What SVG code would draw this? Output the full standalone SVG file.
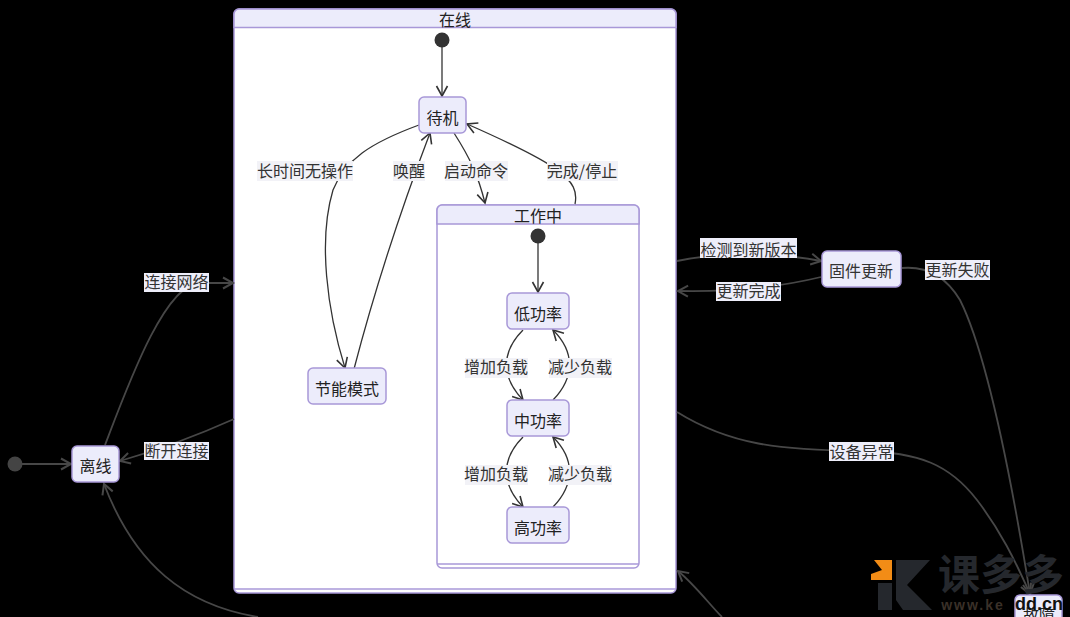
<svg xmlns="http://www.w3.org/2000/svg" width="1070" height="617" viewBox="0 0 1070 617">
<style>
text{font-family:"Noto Sans CJK SC","Liberation Sans",sans-serif;font-size:16px;text-anchor:middle;fill:#333}
.n rect{fill:#ececfb;stroke:#a898d8;stroke-width:1.5}
.c{fill:#fff;stroke:#a898d8;stroke-width:1.5}
.h{fill:#ececfb;stroke:#a898d8;stroke-width:1.5}
.s{stroke:#a898d8;stroke-width:1.5;fill:none}
.e path{fill:none;stroke:#333;stroke-width:1.3;marker-end:url(#a)}
.e path.d{stroke:#474747;stroke-width:1.8;marker-end:url(#b)}
.l{fill:#f2f2f7}
.ld{fill:#eeeefa}
.t{fill:#222}
</style>
<defs>
<marker id="a" markerWidth="14" markerHeight="14" refX="11" refY="7" orient="auto" markerUnits="userSpaceOnUse"><path d="M1 1.500L11 7L1 12.500" fill="none" stroke="#333" stroke-width="1.600"/></marker>
<marker id="b" markerWidth="14" markerHeight="14" refX="11" refY="7" orient="auto" markerUnits="userSpaceOnUse"><path d="M1 1.500L11 7L1 12.500" fill="none" stroke="#474747" stroke-width="2"/></marker>
</defs>
<rect width="1070" height="617" fill="#000"/>
<g id="state-online">
<rect class="c" x="234" y="9" width="442" height="584" rx="5"/>
<path class="h" d="M234 27.500V14a5 5 0 0 1 5-5H671a5 5 0 0 1 5 5V27.500Z"/>
<path class="s" d="M234 589H676"/>
<text class="t" x="455" y="26">在线</text>
</g>
<g id="state-working">
<rect class="c" x="437" y="205" width="202" height="363" rx="5"/>
<path class="h" d="M437 224V210a5 5 0 0 1 5-5H634a5 5 0 0 1 5 5V224Z"/>
<path class="s" d="M437 564H639"/>
<text class="t" x="538" y="222">工作中</text>
</g>
<g id="connectors" class="e">
<path class="d" d="M22 464H71"/>
<path class="d" d="M105 445C128 385 165 283 200 283H233"/>
<path class="d" d="M234 419C205 432 165 448 120 461"/>
<path d="M442 47V96"/>
<path d="M419 125C370 143 345 160 333 190C318 240 327 310 345 368"/>
<path d="M354 369C372 300 395 225 430 133"/>
<path d="M454 133C470 158 478 175 485 203"/>
<path d="M575 204C580 180 560 165 467 124"/>
<path d="M538 243V292"/>
<path d="M523 330C501 352 501 377 523 400"/>
<path d="M553 400C575 377 575 352 553 330"/>
<path d="M523 437C501 459 501 484 523 507"/>
<path d="M553 507C575 484 575 459 553 437"/>
<path class="d" d="M677 261C710 254 770 251 821 261"/>
<path class="d" d="M821 277C780 287 730 292 678 291"/>
<path class="d" d="M902 268C925 266 945 275 960 300C985 350 1010 470 1030 594"/>
<path class="d" d="M677 412C730 445 780 450 860 451C920 452 950 465 977 500C1000 530 1015 560 1030 594"/>
<path class="d" d="M258 617C185 605 135 565 104 484"/>
<path class="d" d="M722 617C710 605 695 585 678 571"/>
</g>
<g id="start-1"><circle cx="15" cy="464" r="7.500" fill="#444"/></g>
<g id="start-2"><circle cx="442" cy="40" r="7.500" fill="#333"/></g>
<g id="start-3"><circle cx="538" cy="236" r="7.500" fill="#333"/></g>
<g id="offline" class="n"><rect x="72" y="446" width="47" height="36" rx="5"/><text class="t" x="95.500" y="472">离线</text></g>
<g id="standby" class="n"><rect x="419" y="97" width="47" height="36" rx="5"/><text class="t" x="442.500" y="124">待机</text></g>
<g id="saving" class="n"><rect x="308" y="368" width="78" height="36" rx="5"/><text class="t" x="347" y="395">节能模式</text></g>
<g id="low" class="n"><rect x="507" y="293" width="62" height="36" rx="5"/><text class="t" x="538" y="320">低功率</text></g>
<g id="mid" class="n"><rect x="507" y="400" width="62" height="36" rx="5"/><text class="t" x="538" y="427">中功率</text></g>
<g id="high" class="n"><rect x="507" y="507" width="62" height="36" rx="5"/><text class="t" x="538" y="534">高功率</text></g>
<g id="firmware" class="n"><rect x="822" y="251" width="79" height="36" rx="5"/><text x="861" y="277">固件更新</text></g>
<g id="fault" class="n"><rect x="1015" y="595" width="47" height="36" rx="5"/><text class="t" x="1039" y="621">故障</text></g>
<g id="labels">
<rect class="l" x="257" y="161" width="96" height="20"/><text x="305" y="177">长时间无操作</text>
<rect class="l" x="393" y="161" width="32" height="20"/><text x="409" y="177">唤醒</text>
<rect class="l" x="445" y="161" width="63" height="20"/><text x="476" y="177">启动命令</text>
<rect class="l" x="547" y="161" width="71" height="20"/><text x="582" y="177">完成/停止</text>
<rect class="l" x="465" y="358" width="63" height="20"/><text x="496" y="373">增加负载</text>
<rect class="l" x="549" y="358" width="63" height="20"/><text x="580" y="373">减少负载</text>
<rect class="l" x="465" y="465" width="63" height="20"/><text x="496" y="480">增加负载</text>
<rect class="l" x="549" y="465" width="63" height="20"/><text x="580" y="480">减少负载</text>
<rect class="ld" x="144" y="273" width="65" height="19"/><text x="176.500" y="288">连接网络</text>
<rect class="ld" x="144" y="442" width="65" height="18"/><text x="176.500" y="457">断开连接</text>
<rect class="ld" x="700" y="238" width="97" height="20"/><text x="748.500" y="256">检测到新版本</text>
<rect class="ld" x="716" y="282" width="65" height="19"/><text x="748.500" y="297">更新完成</text>
<rect class="ld" x="925" y="260" width="65" height="20"/><text x="957.500" y="276">更新失败</text>
<rect class="ld" x="829" y="442" width="65" height="19"/><text x="861.500" y="458">设备异常</text>
</g>
<g id="watermark">
<path d="M874 560H892V580H871V574L882 570Z" fill="#f28c16"/>
<path d="M878 583H892V610H878ZM896 560H930L907 585L932 610H903L896 600Z" fill="#25282d"/>
<text x="1001" y="590" style="font-size:42px;font-weight:700;fill:#25282d">课多多</text>
<text x="973" y="610" style="font-family:'Liberation Sans',sans-serif;font-size:14px;font-weight:700;fill:#3a3028;letter-spacing:2px">www.ke</text>
<text x="1039" y="610" style="font-family:'Liberation Sans',sans-serif;font-size:18px;font-weight:700;fill:#111">dd.cn</text>
</g>
</svg>
